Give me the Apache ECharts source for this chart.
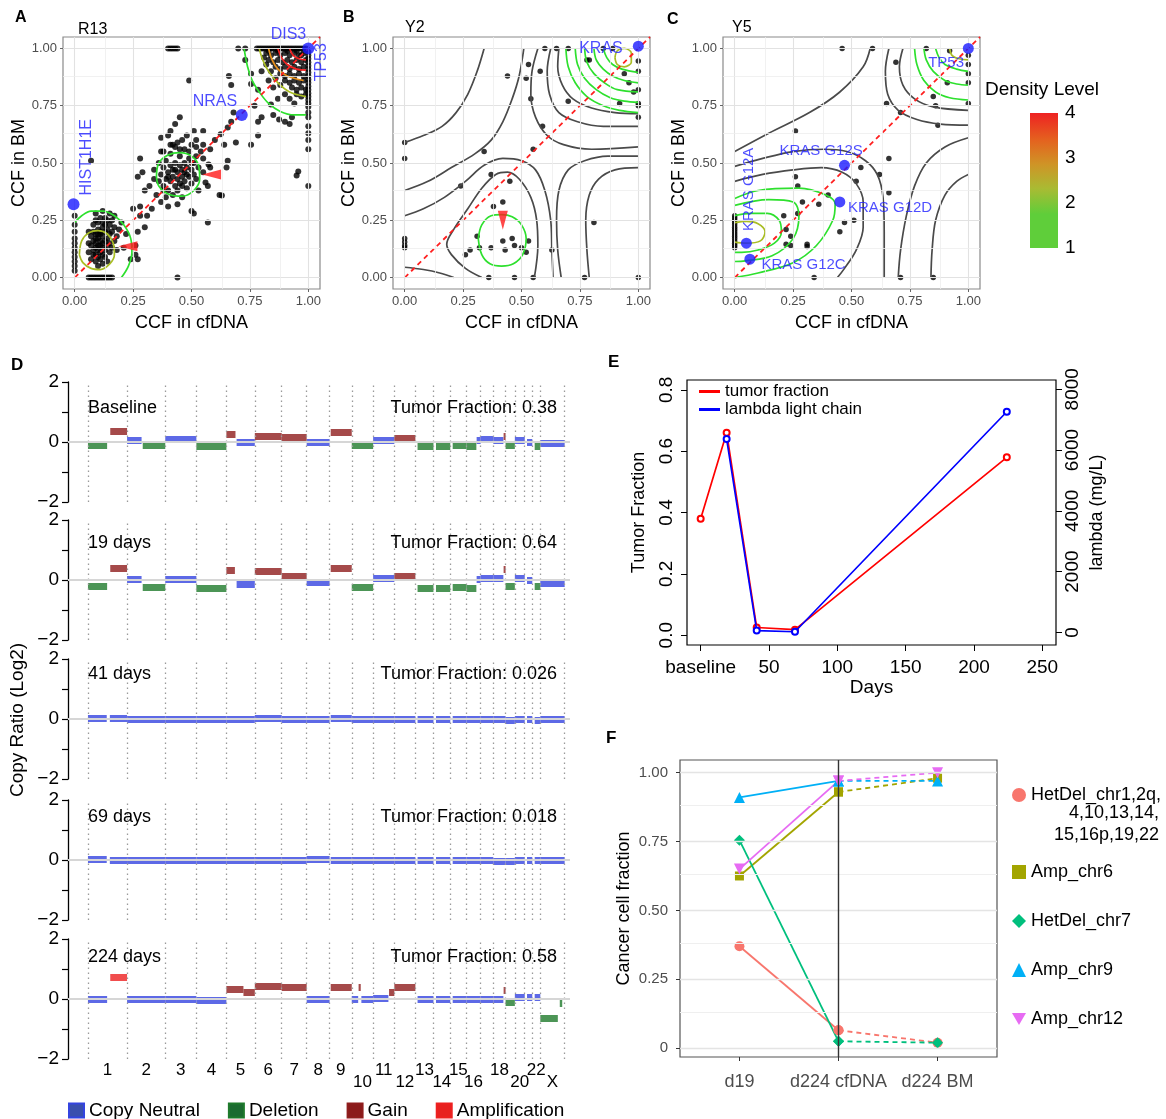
<!DOCTYPE html>
<html><head><meta charset="utf-8">
<script src="https://cdn.jsdelivr.net/npm/echarts@6/dist/echarts.min.js"></script>
<style>html,body{margin:0;padding:0;background:#fff}#c{width:1166px;height:1119px}</style>
</head><body><div id="c"></div>
<script>
// ================= DATA =================
const ticksCCF = [0, 0.25, 0.5, 0.75, 1];
const minorCCF = [0.125, 0.375, 0.625, 0.875];

// Panel A (R13) points [CCF cfDNA, CCF BM]
const r13Points = [
[0,0.03],[0,0.05],[0,0.07],[0,0.09],[0,0.11],[0,0.13],[0,0.15],[0,0.17],[0,0.2],[0,0.23],[0,0.27],
[0.06,0],[0.07,0],[0.08,0],[0.09,0],[0.1,0],[0.11,0],[0.12,0],[0.13,0],[0.14,0],[0.15,0],[0.16,0],[0.44,0],
[0.07,0.08],[0.08,0.1],[0.09,0.07],[0.1,0.09],[0.11,0.08],[0.12,0.1],[0.13,0.09],[0.08,0.12],[0.09,0.13],[0.1,0.12],[0.11,0.14],[0.12,0.13],[0.13,0.12],[0.14,0.14],[0.07,0.14],[0.08,0.16],[0.09,0.15],[0.1,0.17],[0.11,0.16],[0.12,0.18],[0.13,0.16],[0.14,0.17],[0.15,0.15],[0.07,0.18],[0.08,0.2],[0.09,0.19],[0.1,0.21],[0.11,0.2],[0.12,0.22],[0.13,0.2],[0.14,0.21],[0.15,0.19],[0.16,0.2],[0.08,0.23],[0.09,0.25],[0.1,0.24],[0.11,0.26],[0.12,0.24],[0.13,0.26],[0.14,0.25],[0.15,0.23],[0.16,0.25],[0.17,0.22],[0.1,0.05],[0.12,0.06],[0.14,0.07],[0.15,0.11],[0.16,0.13],[0.17,0.16],[0.18,0.18],[0.06,0.11],[0.06,0.15],[0.06,0.2],[0.09,0.28],[0.12,0.29],[0.15,0.28],[0.17,0.27],[0.19,0.21],[0.2,0.24],[0.22,0.19],[0.21,0.13],[0.18,0.12],[0.24,0.08],[0.26,0.1],[0.27,0.08],[0.26,0.14],[0.09,0.1],[0.11,0.11],[0.1,0.14],[0.12,0.15],[0.09,0.17],[0.11,0.19],[0.13,0.23],[0.1,0.19],
[0.25,0.3],[0.28,0.31],[0.28,0.27],[0.27,0.2],[0.3,0.22],[0.31,0.27],[0.33,0.3],[0.3,0.38],[0.32,0.4],[0.34,0.43],[0.27,0.44],[0.29,0.46],[0.07,0.51],[0.5,0.29],[0.57,0.24],[0.51,0.28],[0.62,0.36],[0.63,0.358],
[0.45,0.7],[0.4,0.62],[0.41,0.64],[0.43,0.67],[0.44,0.59],[0.37,0.61],[0.49,0.86],[0.37,0.55],[0.28,0.52],
[0.4,1],[0.41,1],[0.42,1],[0.43,1],[0.44,1],
[0.36,0.42],[0.37,0.45],[0.38,0.4],[0.38,0.48],[0.39,0.43],[0.39,0.51],[0.4,0.38],[0.4,0.46],[0.41,0.42],[0.41,0.49],[0.41,0.54],[0.42,0.36],[0.42,0.44],[0.42,0.47],[0.43,0.4],[0.43,0.5],[0.43,0.57],[0.44,0.43],[0.44,0.46],[0.44,0.38],[0.45,0.49],[0.45,0.41],[0.45,0.53],[0.46,0.44],[0.46,0.47],[0.46,0.35],[0.47,0.5],[0.47,0.42],[0.47,0.56],[0.48,0.45],[0.48,0.48],[0.48,0.39],[0.49,0.52],[0.49,0.44],[0.5,0.47],[0.5,0.41],[0.5,0.58],[0.51,0.5],[0.51,0.45],[0.52,0.53],[0.52,0.43],[0.53,0.48],[0.53,0.38],[0.54,0.55],[0.55,0.46],[0.35,0.36],[0.37,0.33],[0.39,0.35],[0.4,0.31],[0.44,0.32],[0.46,0.6],[0.42,0.58],[0.38,0.55],[0.36,0.5],[0.34,0.47],[0.48,0.62],[0.52,0.6],[0.55,0.52],[0.56,0.415],[0.57,0.4],[0.41,0.58],[0.45,0.56],[0.49,0.55],[0.4,0.44],[0.43,0.47],[0.46,0.4],[0.47,0.46],[0.5,0.5],[0.38,0.38],
[0.7,1],[0.73,1],[0.73,0.95],[0.66,0.88],[0.67,0.84],[0.755,0.89],[0.755,0.845],[0.785,0.82],[0.77,0.75],[0.84,0.755],[0.85,0.71],[0.875,0.69],[0.9,0.68],[0.93,0.7],[0.92,0.67],[0.785,0.68],[0.8,0.7],[0.68,0.72],[0.67,0.68],[0.655,0.655],[0.625,0.625],[0.6,0.6],[0.64,0.58],[0.69,0.59],[0.755,0.58],[0.785,0.62],[0.51,0.64],[0.55,0.64],[0.55,0.58],[0.58,0.56],[0.52,0.57],[0.573,0.493],[0.58,0.48],[0.655,0.51],[0.65,0.48],[0.957,0.463],[0.95,0.445],
[1,0.4],[1,0.56],[1,0.6],[1,0.63],[1,0.66],[1,0.7],[1,0.72],[1,0.745],[1,0.76],[1,0.775],[1,0.79],[1,0.805],[1,0.82],[1,0.835],[1,0.85],[1,0.865],[1,0.88],[1,0.895],[1,0.91],[1,0.925],[1,0.94],[1,0.955],[1,0.97],[1,0.985],
[0.78,1],[0.79,1],[0.8,1],[0.81,1],[0.82,1],[0.83,1],[0.84,1],[0.85,1],[0.86,1],[0.87,1],[0.88,1],[0.89,1],[0.9,1],[0.91,1],[0.92,1],[0.93,1],[0.94,1],[0.95,1],[0.96,1],[0.97,1],[0.98,1],[0.99,1],
[0.82,0.98],[0.84,0.97],[0.86,0.98],[0.88,0.97],[0.9,0.98],[0.92,0.97],[0.94,0.98],[0.96,0.97],[0.98,0.98],[0.83,0.95],[0.85,0.94],[0.87,0.95],[0.89,0.94],[0.91,0.95],[0.93,0.94],[0.95,0.95],[0.97,0.94],[0.99,0.95],[0.86,0.92],[0.88,0.91],[0.9,0.92],[0.92,0.91],[0.94,0.92],[0.96,0.91],[0.98,0.92],[0.88,0.89],[0.9,0.88],[0.92,0.89],[0.94,0.88],[0.96,0.89],[0.98,0.88],[0.9,0.86],[0.92,0.85],[0.94,0.86],[0.96,0.85],[0.98,0.86],[0.93,0.83],[0.95,0.82],[0.97,0.83],[0.99,0.82],[0.95,0.8],[0.97,0.79],[0.99,0.8],[0.81,0.96],[0.84,0.9],[0.86,0.87],[0.85,0.83],[0.88,0.84],[0.9,0.8],[0.92,0.78],[0.94,0.76],[0.87,0.78],[0.83,0.86],[0.8,0.9],[0.82,0.93],[0.97,0.97],[0.99,0.99],[0.95,0.99],[0.91,0.99],[0.87,0.99],[0.83,0.99]
];
// Panel B (Y2) points
const y2Points = [
[0.6,1],[0.65,1],[0.7,1],[0.85,1],[0.89,1],[0.78,0.95],[0.79,0.95],[0.94,0.89],[0.96,0.85],[0.98,0.81],
[1,0.945],[1,0.9],[1,0.82],[1,0.76],[1,0.75],[1,0.7],[0.92,0.76],[0.7,0.77],[0.53,0.93],[0.54,0.78],[0.52,0.87],[0.58,0.9],[0.44,0.88],[0.59,0.66],[0.55,0.56],[0.34,0.55],
[0,0.59],[0,0.52],[0.24,0.4],[0.37,0.45],[0.45,0.42],[0.42,0.33],[0.38,0.31],[0.81,0.24],
[0,0.17],[0,0.155],[0,0.14],[0,0.13],[0.31,0.18],[0.28,0.12],[0.26,0.1],[0.32,0.13],[0.37,0.13],[0.42,0.16],[0.43,0.12],[0.46,0.17],[0.47,0.14],[0.5,0.13],[0.53,0.16],[0.52,0.11],[0.63,0.12],
[0.36,0],[0.47,0],[0.55,0],[0.77,0],[1,0]
];
// Panel C (Y5) points
const y5Points = [
[0.46,1],[0.59,1],[0.82,1],[0.92,0.99],[0.69,0.94],[1,0.97],[1,0.93],[1,0.89],[1,0.85],[0.91,0.85],[0.85,0.79],[0.86,0.75],[1,0.76],[0.65,0.76],[0.71,0.72],[0.87,0.665],[0.26,0.64],
[0.54,0.48],[0.66,0.52],[0.62,0.45],[0.52,0.42],[0.26,0.44],[0.27,0.4],[0.4,0.36],[0.29,0.33],[0.36,0.32],[0.66,0.37],[0.27,0.28],[0.21,0.27],[0.47,0.24],[0.51,0.25],[0.45,0.2],[0.22,0.21],[0.24,0.18],[0.22,0.145],[0.24,0.14],[0.31,0.145],[0.31,0.135],
[0.34,0],[0.71,0],[0.85,0],
[0,0.13],[0,0.14],[0,0.15],[0,0.16],[0,0.17],[0,0.18],[0,0.19],[0,0.2],[0,0.21],[0,0.22],[0,0.23],[0,0.24],[0,0.25],[0,0.26],[0,0.27]
];
// highlighted genes [name, x, y]
const r13Genes = [['HIST1H1E',-0.005,0.32],['NRAS',0.715,0.71],['DIS3',1,1]];
const y2Genes = [['KRAS',1,1.01]];
const y5Genes = [['TP53',1,1],['KRAS G12S',0.47,0.49],['KRAS G12D',0.45,0.33],['KRAS G12A',0.05,0.15],['KRAS G12C',0.065,0.08]];
// gene text labels [text, x, y, rotation]
const r13Labels = [['HIST1H1E',0.05,0.525,90],['NRAS',0.6,0.77,0],['DIS3',0.915,1.06,0],['TP53',1.056,0.94,90]];
const y2Labels = [['KRAS',0.84,1.0,0]];
const y5Labels = [['TP53',0.905,0.935,0],['KRAS G12S',0.37,0.555,0],['KRAS G12D',0.665,0.305,0],['KRAS G12C',0.295,0.055,0],['KRAS G12A',0.06,0.385,90]];
// red arrowheads [x, y, rotation]
const r13Arrows = [[0.228,0.137,90],[0.586,0.45,90]];
const y2Arrows = [[0.42,0.25,180]];

// density contours [level, points]; level 0 = grey
const r13Contours = [
[1,[[0.0,0.24],[0.03,0.27],[0.07,0.29],[0.12,0.29],[0.17,0.27],[0.21,0.23],[0.24,0.17],[0.245,0.11],[0.23,0.05],[0.2,0.0]]],
[2,[[0.02,0.1],[0.03,0.16],[0.06,0.195],[0.1,0.205],[0.14,0.19],[0.165,0.15],[0.17,0.1],[0.15,0.06],[0.11,0.035],[0.07,0.04],[0.035,0.065],[0.02,0.1]]],
[1,[[0.35,0.44],[0.36,0.5],[0.4,0.535],[0.45,0.545],[0.5,0.53],[0.53,0.49],[0.535,0.43],[0.51,0.38],[0.46,0.355],[0.4,0.365],[0.36,0.4],[0.35,0.44]]],
[1,[[0.725,1.0],[0.74,0.92],[0.76,0.86],[0.79,0.81],[0.83,0.76],[0.88,0.725],[0.94,0.71],[0.99,0.71]]],
[2,[[0.79,1.0],[0.805,0.95],[0.83,0.9],[0.87,0.85],[0.92,0.81],[0.99,0.79]]],
[3,[[0.83,1.0],[0.845,0.95],[0.87,0.91],[0.91,0.88],[0.98,0.86]]],
[4,[[0.87,1.0],[0.885,0.96],[0.91,0.93],[0.95,0.91],[0.99,0.905]]],
[4,[[0.92,1.0],[0.935,0.97],[0.96,0.955],[0.99,0.95]]]
];
const y2Contours = [
[0,[[0,0.045],[0.08,0.035],[0.15,0.02],[0.21,0.0]]],
[0,[[0.33,0.0],[0.26,0.04],[0.2,0.1],[0.18,0.145],[0.21,0.21],[0.27,0.3],[0.33,0.39],[0.39,0.45],[0.44,0.46],[0.49,0.43],[0.54,0.35],[0.565,0.25],[0.57,0.14],[0.555,0.0]]],
[0,[[0,0.27],[0.08,0.3],[0.17,0.35],[0.26,0.42],[0.34,0.49],[0.42,0.52],[0.5,0.51],[0.56,0.47],[0.6,0.38],[0.625,0.25],[0.63,0.12],[0.635,0.0]]],
[0,[[0,0.38],[0.1,0.42],[0.2,0.48],[0.3,0.54],[0.37,0.6],[0.42,0.68],[0.46,0.78],[0.49,0.88],[0.51,1.0]]],
[0,[[0,0.59],[0.08,0.62],[0.16,0.66],[0.22,0.72],[0.27,0.8],[0.31,0.9],[0.34,1.0]]],
[0,[[0.57,1.0],[0.545,0.9],[0.54,0.8],[0.56,0.7],[0.61,0.62],[0.68,0.58],[0.8,0.56],[1.0,0.57]]],
[0,[[0.625,1.0],[0.61,0.9],[0.62,0.8],[0.66,0.72],[0.74,0.68],[0.85,0.66],[1.0,0.66]]],
[0,[[0.66,1.0],[0.655,0.92],[0.675,0.84],[0.72,0.78],[0.8,0.74],[0.9,0.72],[1.0,0.715]]],
[0,[[0.67,0.0],[0.655,0.12],[0.65,0.25],[0.66,0.38],[0.7,0.47],[0.77,0.51],[0.87,0.53],[1.0,0.53]]],
[0,[[0.79,0.0],[0.78,0.12],[0.775,0.25],[0.79,0.36],[0.83,0.43],[0.9,0.47],[1.0,0.48]]],
[1,[[0.69,1.0],[0.7,0.92],[0.73,0.85],[0.78,0.79],[0.85,0.75],[0.92,0.73],[1.0,0.72]]],
[1,[[0.73,1.0],[0.74,0.93],[0.77,0.87],[0.82,0.82],[0.88,0.785],[0.94,0.77],[1.0,0.765]]],
[1,[[0.77,1.0],[0.78,0.94],[0.81,0.89],[0.855,0.85],[0.91,0.82],[1.0,0.81]]],
[1,[[0.81,1.0],[0.82,0.95],[0.85,0.91],[0.89,0.88],[0.94,0.86],[1.0,0.85]]],
[1,[[0.85,1.0],[0.865,0.96],[0.89,0.93],[0.93,0.91],[1.0,0.895]]],
[2,[[0.9,0.96],[0.91,0.99],[0.94,1.0],[0.97,0.98],[0.97,0.94],[0.94,0.92],[0.91,0.93],[0.9,0.96]]],
[1,[[0.315,0.17],[0.33,0.23],[0.37,0.27],[0.415,0.275],[0.46,0.265],[0.5,0.23],[0.52,0.17],[0.505,0.1],[0.465,0.06],[0.415,0.05],[0.365,0.06],[0.33,0.1],[0.315,0.17]]]
];
const y5Contours = [
[0,[[0,0.55],[0.146,0.63],[0.32,0.72],[0.45,0.81],[0.55,0.92],[0.58,1.0]]],
[0,[[0,0.485],[0.12,0.52],[0.25,0.55],[0.38,0.56],[0.48,0.55],[0.56,0.51],[0.61,0.45],[0.635,0.35],[0.64,0.2],[0.64,0.0]]],
[0,[[0,0.42],[0.12,0.45],[0.25,0.47],[0.37,0.48],[0.46,0.46],[0.52,0.41],[0.55,0.33],[0.55,0.22],[0.52,0.12],[0.47,0.04],[0.44,0.0]]],
[0,[[0.7,0.0],[0.71,0.12],[0.735,0.27],[0.77,0.4],[0.82,0.5],[0.9,0.57],[1.0,0.61]]],
[0,[[0.84,0.0],[0.845,0.12],[0.86,0.25],[0.9,0.36],[0.95,0.42],[1.0,0.45]]],
[0,[[0.66,1.0],[0.645,0.9],[0.655,0.8],[0.7,0.73],[0.78,0.69],[0.88,0.67],[1.0,0.665]]],
[0,[[0.72,1.0],[0.705,0.92],[0.72,0.84],[0.77,0.78],[0.85,0.745],[1.0,0.73]]],
[1,[[0,0.345],[0.1,0.38],[0.275,0.39],[0.39,0.36],[0.43,0.32],[0.42,0.25],[0.35,0.14],[0.25,0.065],[0.1,0.02],[0,0.0]]],
[1,[[0,0.315],[0.146,0.34],[0.25,0.33],[0.275,0.27],[0.25,0.17],[0.16,0.095],[0.046,0.073],[0,0.07]]],
[1,[[0,0.27],[0.07,0.28],[0.14,0.28],[0.19,0.25],[0.2,0.2],[0.17,0.15],[0.1,0.12],[0.03,0.11],[0,0.11]]],
[2,[[0,0.24],[0.05,0.245],[0.1,0.235],[0.13,0.2],[0.11,0.16],[0.05,0.15],[0,0.155]]],
[1,[[0.77,1.0],[0.78,0.93],[0.81,0.86],[0.86,0.81],[0.92,0.785],[1.0,0.775]]],
[1,[[0.81,1.0],[0.82,0.95],[0.85,0.9],[0.9,0.86],[0.95,0.845],[1.0,0.84]]],
[1,[[0.86,1.0],[0.875,0.96],[0.9,0.93],[0.95,0.91],[1.0,0.9]]],
[2,[[0.92,1.0],[0.93,0.97],[0.96,0.955],[1.0,0.95]]]
];
const densityTicks = [1, 2, 3, 4];

// Panel D : copy number
const chrLen = [249,243,198,191,181,171,159,146,141,136,135,134,115,107,103,90,81,78,59,63,48,51,155];
const chrTopLabels = ['1','2','3','4','5','6','7','8','9','11','13','15','18','22'];
const chrBottomLabels = ['10','12','14','16','20','X'];
const cnSamples = ['Baseline','19 days','41 days','69 days','224 days'];
const cnTumorFraction = ['0.38','0.64','0.026','0.018','0.58'];
// segments: [chromosome, start fraction, end fraction, log2 ratio, call]
const segBaseline = [[1,0,0.49,-0.11,'D'],[1,0.57,1,0.37,'G'],[2,0,0.38,0.05,'N'],[2,0.41,1,-0.11,'D'],[3,0,1,0.08,'N'],[4,0,1,-0.15,'D'],[5,0,0.32,0.25,'G'],[5,0.36,1,0.0,'N'],[6,0,1,0.19,'G'],[7,0,1,0.15,'G'],[8,0,1,0.0,'N'],[9,0.05,1,0.33,'G'],[10,0,1,-0.12,'D'],[11,0,1,0.07,'N'],[12,0,1,0.14,'G'],[13,0.12,1,-0.15,'D'],[14,0.15,1,-0.13,'D'],[15,0.15,1,-0.12,'D'],[16,0,0.7,-0.14,'D'],[16,0.72,1,0.05,'N'],[17,0,1,0.09,'N'],[18,0,0.82,0.05,'N'],[18,0.84,1,0.2,'G'],[19,0,1,-0.1,'D'],[20,0,1,0.05,'N'],[21,0.3,1,0.0,'N'],[22,0.3,1,-0.14,'D'],[23,0,1,-0.05,'N']];
const seg19 = [[1,0,0.49,-0.22,'D'],[1,0.57,1,0.39,'G'],[2,0,0.38,0.02,'N'],[2,0.41,1,-0.24,'D'],[3,0,1,0.03,'N'],[4,0,1,-0.28,'D'],[5,0,0.3,0.33,'G'],[5,0.36,1,-0.14,'N'],[6,0,1,0.28,'G'],[7,0,1,0.11,'G'],[8,0,1,-0.06,'N'],[9,0.05,1,0.39,'G'],[10,0,1,-0.24,'D'],[11,0,1,0.06,'N'],[12,0,1,0.13,'G'],[13,0.12,1,-0.28,'D'],[14,0.15,1,-0.27,'D'],[15,0.15,1,-0.25,'D'],[16,0,0.7,-0.27,'D'],[16,0.72,1,0.02,'N'],[17,0,1,0.06,'N'],[18,0,0.82,0.06,'N'],[18,0.84,1,0.36,'G'],[19,0,1,-0.2,'D'],[20,0,1,0.06,'N'],[21,0.3,1,0.0,'N'],[22,0.3,1,-0.22,'D'],[23,0,1,-0.1,'N']];
const seg41 = [[1,0,0.48,0.02,'N'],[1,0.56,1,0.01,'N'],[2,0,1,0.0,'N'],[3,0,1,0.0,'N'],[4,0,1,-0.01,'N'],[5,0,1,0.0,'N'],[6,0,1,0.01,'N'],[7,0,1,0.0,'N'],[8,0,1,0.0,'N'],[9,0.05,1,0.02,'N'],[10,0,1,0.0,'N'],[11,0,1,0.0,'N'],[12,0,1,0.0,'N'],[13,0.12,1,-0.01,'N'],[14,0.15,1,0.0,'N'],[15,0.15,1,0.0,'N'],[16,0,1,0.0,'N'],[17,0,1,0.0,'N'],[18,0,1,-0.02,'N'],[19,0,1,-0.03,'N'],[20,0,1,0.0,'N'],[21,0.3,1,-0.02,'N'],[22,0.3,1,-0.03,'N'],[23,0,1,-0.02,'N']];
const seg69 = [[1,0,0.48,0.01,'N'],[1,0.56,1,0.0,'N'],[2,0,1,0.0,'N'],[3,0,1,0.0,'N'],[4,0,1,-0.01,'N'],[5,0,1,0.0,'N'],[6,0,1,0.0,'N'],[7,0,1,0.0,'N'],[8,0,1,0.01,'N'],[9,0.05,1,0.0,'N'],[10,0,1,0.0,'N'],[11,0,1,0.0,'N'],[12,0,1,0.0,'N'],[13,0.12,1,-0.01,'N'],[14,0.15,1,0.0,'N'],[15,0.15,1,-0.02,'N'],[16,0,1,0.0,'N'],[17,0,1,-0.02,'N'],[18,0,1,-0.03,'N'],[19,0,1,-0.04,'N'],[20,0,1,0.0,'N'],[21,0.3,1,-0.02,'N'],[22,0.3,1,0.0,'N'],[23,0,1,0.0,'N']];
const seg224 = [[1,0,0.49,0.0,'N'],[1,0.57,1,0.74,'A'],[2,0,1,0.0,'N'],[3,0,1,0.0,'N'],[4,0,1,-0.04,'N'],[5,0,0.6,0.34,'G'],[5,0.6,1,0.22,'G'],[6,0,1,0.42,'G'],[7,0,1,0.4,'G'],[8,0,1,0.0,'N'],[9,0.05,1,0.4,'G'],[10,0,0.3,0.0,'N'],[10,0.32,0.42,0.4,'G'],[10,0.45,1,0.0,'N'],[11,0,0.72,0.02,'N'],[11,0.75,1,0.22,'G'],[12,0,1,0.4,'G'],[13,0.12,1,-0.02,'N'],[14,0.15,1,-0.02,'N'],[15,0.15,1,0.0,'N'],[16,0,1,-0.02,'N'],[17,0,1,0.0,'N'],[18,0,0.82,0.0,'N'],[18,0.84,1,0.3,'G'],[19,0,1,-0.1,'D'],[20,0,1,0.05,'N'],[21,0.3,1,0.05,'N'],[22,0.3,1,0.05,'N'],[23,0,0.72,-0.65,'D'],[23,0.8,0.9,-0.15,'D']];
const cnSegments = [segBaseline, seg19, seg41, seg69, seg224];
const cnCalls = {N:'Copy Neutral', D:'Deletion', G:'Gain', A:'Amplification'};

// Panel E
const eTumorDays = [0, 19, 41, 69, 224];
const eTumorFraction = [0.38, 0.66, 0.025, 0.018, 0.58];
const eLambdaDays = [19, 41, 69, 224];
const eLambda = [6360, 60, 20, 7260];
const eDayTicks = [0, 50, 100, 150, 200, 250];
const eTfTicks = [0, 0.2, 0.4, 0.6, 0.8];
const eLambdaTicks = [0, 2000, 4000, 6000, 8000];

// Panel F
const fCategories = ['d19', 'd224 cfDNA', 'd224 BM'];
const fHetDelMulti = [0.37, 0.065, 0.02];
const fAmpChr6 = [0.625, 0.93, 0.98];
const fHetDelChr7 = [0.755, 0.025, 0.02];
const fAmpChr9 = [0.91, 0.97, 0.97];
const fAmpChr12 = [0.65, 0.97, 1.0];
const fTicks = [0, 0.25, 0.5, 0.75, 1];
const fMinor = [0.125, 0.375, 0.625, 0.875];

// ================= BUILD =================
const FONT = '"Liberation Sans", Arial, Helvetica, sans-serif';
const levelColor = ['#4a4a4a', '#2ee02e', '#a9bd24', '#e8901a', '#f42020'];
const callColor = {N:'#3444e0', D:'#1f7a2c', G:'#8f1d1d', A:'#ee2020'};
const chrStart = []; let acc = 0; chrLen.forEach(l => { chrStart.push(acc); acc += l; });
const genomeEnd = acc;
const chrBounds = chrStart.concat([genomeEnd]);
const chrCenter = lbl => { const i = (lbl === 'X' ? 23 : parseInt(lbl)) - 1; return chrStart[i] + chrLen[i] / 2; };
const topCenters = chrTopLabels.map(chrCenter), bottomCenters = chrBottomLabels.map(chrCenter);
const chrLabelFor = (v, lbls, cs) => { for (let i = 0; i < cs.length; i++) if (Math.abs(cs[i] - v) < 1) return lbls[i]; return ''; };
const D_MIN = -127, D_MAX = 3068;
const dTops = [382, 520, 659, 800, 939];
const dTextY = [408, 543, 674, 817, 957];

const grids = [
  {left:63, top:37, width:257, height:252, show:true, borderColor:'#8a8a8a', borderWidth:1.2, backgroundColor:'transparent'},
  {left:393, top:37, width:257, height:252, show:true, borderColor:'#8a8a8a', borderWidth:1.2, backgroundColor:'transparent'},
  {left:723, top:37, width:257, height:252, show:true, borderColor:'#8a8a8a', borderWidth:1.2, backgroundColor:'transparent'},
  {left:1030, top:113, width:28, height:135}
];
dTops.forEach(t => grids.push({left:68, top:t, width:502, height:120}));
grids.push({left:687, top:380, width:369, height:265, show:true, borderColor:'#000', borderWidth:1.2, backgroundColor:'transparent'});
grids.push({left:680, top:760, width:317, height:297, show:true, borderColor:'#555', borderWidth:1.2, backgroundColor:'transparent'});

const noZero = {show:false, onZero:false};
function ccfAxis(gi, name, gap) {
  return {type:'value', gridIndex:gi, min:-0.05, max:1.05,
    axisLine:noZero,
    axisTick:{show:true, length:3, customValues:ticksCCF, lineStyle:{color:'#666'}},
    axisLabel:{customValues:ticksCCF, formatter:v => v.toFixed(2), fontSize:13, color:'#4d4d4d', margin:6},
    splitLine:{show:false},
    name:name, nameLocation:'middle', nameGap:gap, nameTextStyle:{fontSize:18, color:'#000'}};
}
const xAxes = [], yAxes = [];
[0,1,2].forEach(gi => { xAxes.push(ccfAxis(gi, 'CCF in cfDNA', 25)); yAxes.push(ccfAxis(gi, 'CCF in BM', 28)); });
xAxes.push({type:'category', gridIndex:3, data:['lvl'], show:false});
yAxes.push({type:'value', gridIndex:3, min:1, max:4, interval:1, position:'right',
  axisLine:noZero, axisTick:{show:true, inside:true, length:5, lineStyle:{color:'#fff', width:1}},
  axisLabel:{fontSize:19, color:'#000', margin:7}, splitLine:{show:false}});
dTops.forEach((t, i) => {
  xAxes.push({type:'value', gridIndex:4+i, min:D_MIN, max:D_MAX, show:i === 4,
    axisLine:noZero, axisTick:{show:false}, splitLine:{show:false},
    axisLabel:{show:i === 4, customValues:topCenters, formatter:v => chrLabelFor(v, chrTopLabels, topCenters), fontSize:17, color:'#000', margin:3}});
  yAxes.push({type:'value', gridIndex:4+i, min:-2, max:2, interval:1,
    axisLine:{show:true, onZero:false, lineStyle:{color:'#000', width:1.3}},
    axisTick:{show:true, length:6, lineStyle:{color:'#000', width:1.2}},
    axisLabel:{fontSize:19, color:'#000', margin:9, formatter:v => v === 2 ? '2' : v === 0 ? '0' : v === -2 ? '\u22122' : ''},
    splitLine:{show:false}});
});
xAxes.push({type:'value', gridIndex:8, min:D_MIN, max:D_MAX, position:'bottom', offset:12,
  axisLine:noZero, axisTick:{show:false}, splitLine:{show:false},
  axisLabel:{customValues:bottomCenters, formatter:v => chrLabelFor(v, chrBottomLabels, bottomCenters), fontSize:17, color:'#000', margin:3}});
// E axes
xAxes.push({type:'value', gridIndex:9, min:-10, max:260, axisLine:noZero,
  axisTick:{show:true, length:6, customValues:eDayTicks, lineStyle:{color:'#000'}},
  axisLabel:{customValues:eDayTicks, formatter:v => v === 0 ? 'baseline' : String(v), fontSize:19, color:'#000', margin:13},
  splitLine:{show:false}, name:'Days', nameLocation:'middle', nameGap:24, nameTextStyle:{fontSize:19, color:'#000'}});
yAxes.push({type:'value', gridIndex:9, min:-0.032, max:0.832, position:'left', axisLine:noZero,
  axisTick:{show:true, length:6, customValues:eTfTicks, lineStyle:{color:'#000'}},
  axisLabel:{customValues:eTfTicks, formatter:v => v.toFixed(1), rotate:90, fontSize:19, color:'#000', margin:11},
  splitLine:{show:false}, name:'Tumor Fraction', nameLocation:'middle', nameGap:39, nameTextStyle:{fontSize:18, color:'#000'}});
yAxes.push({type:'value', gridIndex:9, min:-416, max:8305, position:'right', axisLine:noZero,
  axisTick:{show:true, length:6, customValues:eLambdaTicks, lineStyle:{color:'#000'}},
  axisLabel:{customValues:eLambdaTicks, formatter:v => String(v), rotate:90, fontSize:19, color:'#000', margin:7},
  splitLine:{show:false}, name:'lambda (mg/L)', nameLocation:'middle', nameGap:32, nameTextStyle:{fontSize:18, color:'#000'}});
// F axes
xAxes.push({type:'value', gridIndex:10, min:0.4, max:3.6, axisLine:noZero,
  axisTick:{show:true, length:4, customValues:[1,2,3], lineStyle:{color:'#333'}},
  axisLabel:{customValues:[1,2,3], formatter:v => fCategories[Math.round(v) - 1], fontSize:18, color:'#4d4d4d', margin:16},
  splitLine:{show:false}});
yAxes.push({type:'value', gridIndex:10, min:-0.032, max:1.046, axisLine:noZero,
  axisTick:{show:true, length:4, customValues:fTicks, lineStyle:{color:'#333'}},
  axisLabel:{customValues:fTicks, formatter:v => v === 0 ? '0' : v.toFixed(2), fontSize:15, color:'#4d4d4d', margin:12},
  splitLine:{show:false}, name:'Cancer cell fraction', nameLocation:'middle', nameGap:47, nameTextStyle:{fontSize:18, color:'#000'}});

const series = [];
const mlBase = {silent:true, symbol:['none','none'], label:{show:false}, emphasis:{disabled:true}, animation:false, lineStyle:{type:'solid'}};
// CCF panels
function ccfPanel(gi, points, contours, genes, labels, arrows, ptSize, geneSize, labelSize) {
  const gl = [];
  ticksCCF.forEach(v => { gl.push({xAxis:v, lineStyle:{color:'#e2e2e2', width:1.1, type:'solid'}}); gl.push({yAxis:v, lineStyle:{color:'#e2e2e2', width:1.1, type:'solid'}}); });
  minorCCF.forEach(v => { gl.push({xAxis:v, lineStyle:{color:'#eeeeee', width:0.8, type:'solid'}}); gl.push({yAxis:v, lineStyle:{color:'#eeeeee', width:0.8, type:'solid'}}); });
  series.push({type:'scatter', xAxisIndex:gi, yAxisIndex:gi, data:[], z:1, silent:true, markLine:Object.assign({}, mlBase, {data:gl})});
  series.push({type:'scatter', xAxisIndex:gi, yAxisIndex:gi, data:points, symbolSize:ptSize, itemStyle:{color:'#000'}, z:2, silent:true});
  contours.forEach(c => series.push({type:'line', xAxisIndex:gi, yAxisIndex:gi, data:c[1], smooth:0.35, symbol:'none', showSymbol:false,
    lineStyle:{color:levelColor[c[0]], width:1.7}, z:3, silent:true}));
  series.push({type:'line', xAxisIndex:gi, yAxisIndex:gi, data:[[0,0],[1.05,1.05]], symbol:'none', showSymbol:false,
    lineStyle:{color:'#ff2020', width:1.8, type:[5,4]}, z:4, silent:true});
  series.push({type:'scatter', xAxisIndex:gi, yAxisIndex:gi, data:genes.map(g => ({name:g[0], value:[g[1], g[2]]})), symbolSize:geneSize, itemStyle:{color:'#1a1aff'}, z:5, silent:true, clip:false});
  series.push({type:'scatter', xAxisIndex:gi, yAxisIndex:gi, data:arrows.map(a => ({value:[a[0], a[1]], symbolRotate:a[2]})), symbol:'triangle', symbolSize:[10,19], itemStyle:{color:'#ff1a1a'}, z:6, silent:true});
  series.push({type:'scatter', xAxisIndex:gi, yAxisIndex:gi, symbolSize:1, itemStyle:{color:'rgba(0,0,0,0)'}, clip:false, silent:true, z:7,
    data:labels.map(l => ({name:l[0], value:[l[1], l[2]], label:{rotate:l[3]}})),
    label:{show:true, position:'inside', formatter:'{b}', color:'#1f1fff', fontSize:labelSize}});
}
ccfPanel(0, r13Points, r13Contours, r13Genes, r13Labels, r13Arrows, 6, 12, 16);
ccfPanel(1, y2Points, y2Contours, y2Genes, y2Labels, y2Arrows, 5.5, 11, 16);
ccfPanel(2, y5Points, y5Contours, y5Genes, y5Labels, [], 5.5, 11, 15);
// density colour bar
series.push({type:'bar', xAxisIndex:3, yAxisIndex:3, data:[4], barWidth:'100%', clip:true, silent:true,
  itemStyle:{color:{type:'linear', x:0, y:0, x2:0, y2:1, colorStops:[
    {offset:0, color:'#ee2222'}, {offset:0.2, color:'#e4621f'}, {offset:0.38, color:'#cf9426'}, {offset:0.56, color:'#a9bb33'}, {offset:0.75, color:'#5fce3a'}, {offset:1, color:'#5fce3a'}]}}});
// D panels
cnSegments.forEach((segs, i) => {
  const xi = 4 + i, yi = 4 + i;
  const ml = chrBounds.map(b => ({xAxis:b, lineStyle:{color:'#9a9a9a', width:1.3, type:[1.5,3.5]}}));
  ml.push({yAxis:0, lineStyle:{color:'#d6d6d6', width:2, type:'solid'}});
  series.push({type:'scatter', xAxisIndex:xi, yAxisIndex:yi, data:[], z:1, silent:true, markLine:Object.assign({}, mlBase, {data:ml})});
  Object.keys(cnCalls).forEach(k => {
    const d = segs.filter(s => s[4] === k).map(s => {
      const c = s[0] - 1;
      return {coords:[[chrStart[c] + s[1] * chrLen[c], s[3]], [chrStart[c] + s[2] * chrLen[c], s[3]]]};
    });
    if (!d.length) return;
    series.push({type:'lines', name:cnCalls[k], coordinateSystem:'cartesian2d', xAxisIndex:xi, yAxisIndex:yi, data:d, z:3, silent:true,
      lineStyle:{color:callColor[k], width:7, opacity:0.8, cap:'butt'}, itemStyle:{color:callColor[k]}});
  });
});
// E series
series.push({type:'line', name:'tumor fraction', xAxisIndex:10, yAxisIndex:9, data:eTumorDays.map((d, i) => [d, eTumorFraction[i]]),
  symbol:'emptyCircle', symbolSize:6, lineStyle:{color:'#ff0000', width:1.7}, itemStyle:{color:'#ff0000', borderWidth:1.5}, z:3});
series.push({type:'line', name:'lambda light chain', xAxisIndex:10, yAxisIndex:10, data:eLambdaDays.map((d, i) => [d, eLambda[i]]),
  symbol:'emptyCircle', symbolSize:6, lineStyle:{color:'#0000ff', width:1.7}, itemStyle:{color:'#0000ff', borderWidth:1.5}, z:4});
// F series
const fGl = fTicks.map(v => ({yAxis:v, lineStyle:{color:'#e4e4e4', width:1.3, type:'solid'}}))
  .concat(fMinor.map(v => ({yAxis:v, lineStyle:{color:'#efefef', width:1, type:'solid'}})))
  .concat([{xAxis:2, lineStyle:{color:'#333', width:1.4, type:'solid'}}]);
series.push({type:'scatter', xAxisIndex:11, yAxisIndex:11, data:[], z:1, silent:true, markLine:Object.assign({}, mlBase, {data:fGl})});
const hetName = 'HetDel_chr1,2q,4,10,13,14,15,16p,19,22';
const invTri = 'path://M0,0L10,0L5,8.66Z';
const fGroups = [
  [hetName, '#F8766D', 'circle', 10, fHetDelMulti],
  ['Amp_chr6', '#A3A500', 'rect', 9, fAmpChr6],
  ['HetDel_chr7', '#00BF7D', 'diamond', 11, fHetDelChr7],
  ['Amp_chr9', '#00B0F6', 'triangle', 11, fAmpChr9],
  ['Amp_chr12', '#E76BF3', invTri, 11, fAmpChr12]
];
fGroups.forEach(g => {
  series.push({type:'line', name:g[0], xAxisIndex:11, yAxisIndex:11, data:[[1, g[4][0]], [2, g[4][1]]], symbol:g[2], symbolSize:g[3],
    lineStyle:{color:g[1], width:1.8}, itemStyle:{color:g[1]}, z:4, silent:true});
  series.push({type:'line', name:g[0], xAxisIndex:11, yAxisIndex:11, data:[[2, g[4][1]], [3, g[4][2]]], symbol:g[2], symbolSize:g[3],
    lineStyle:{color:g[1], width:1.8, type:[5,4]}, itemStyle:{color:g[1]}, z:4, silent:true});
});

const legends = [
  {left:63, top:1096, itemWidth:15, itemHeight:14, itemGap:28, icon:'rect', selectedMode:false, textStyle:{fontSize:19, color:'#000'},
   data:Object.keys(cnCalls).map(k => ({name:cnCalls[k], itemStyle:{color:{N:'#3a4fae', D:'#1b6b30', G:'#8b1a1a', A:'#e8201f'}[k]}}))},
  {left:694, top:378, orient:'vertical', itemWidth:21, itemHeight:3, itemGap:1, icon:'rect', selectedMode:false, textStyle:{fontSize:17, color:'#000'},
   data:['tumor fraction', 'lambda light chain']},
  {left:1007, top:781, orient:'vertical', itemWidth:14, itemHeight:14, selectedMode:false, textStyle:{fontSize:18, color:'#000'},
   formatter:() => 'HetDel_chr1,2q,', data:[{name:hetName, icon:'circle'}]},
  {left:1007, top:858, orient:'vertical', itemWidth:14, itemHeight:14, itemGap:31, selectedMode:false, textStyle:{fontSize:18, color:'#000'},
   data:[{name:'Amp_chr6', icon:'rect'}, {name:'HetDel_chr7', icon:'diamond'}, {name:'Amp_chr9', icon:'triangle'}, {name:'Amp_chr12', icon:invTri}]}
];

const gText = (t, x, y, size, o) => { o = o || {}; return {type:'text', x:x, y:y, rotation:o.rot || 0, silent:true, z:10,
  style:{text:t, fill:o.color || '#000', font:(o.bold ? 'bold ' : '') + size + 'px ' + FONT, align:o.align || 'left', verticalAlign:'middle'}}; };
const graphics = [
  gText('A', 15, 18, 16, {bold:true}), gText('B', 343, 18, 16, {bold:true}), gText('C', 667, 20, 16, {bold:true}),
  gText('R13', 78, 30, 16), gText('Y2', 405, 28, 16), gText('Y5', 732, 28, 16),
  gText('Density Level', 985, 90, 19),
  gText('D', 11, 365, 17, {bold:true}), gText('E', 608, 362, 17, {bold:true}), gText('F', 606, 738, 17, {bold:true}),
  gText('Copy Ratio (Log2)', 18, 720, 19, {rot:Math.PI / 2, align:'center'}),
  gText('4,10,13,14,', 1159, 813, 18, {align:'right'}), gText('15,16p,19,22', 1159, 835, 18, {align:'right'})
];
cnSamples.forEach((s, i) => {
  graphics.push(gText(s, 88, dTextY[i], 18));
  graphics.push(gText('Tumor Fraction: ' + cnTumorFraction[i], 557, dTextY[i], 18, {align:'right'}));
});

const chart = echarts.init(document.getElementById('c'), null, {renderer:'canvas'});
chart.setOption({
  animation:false, backgroundColor:'#fff',
  textStyle:{fontFamily:FONT},
  grid:grids, xAxis:xAxes, yAxis:yAxes, series:series, legend:legends, graphic:graphics
});
</script></body></html>
